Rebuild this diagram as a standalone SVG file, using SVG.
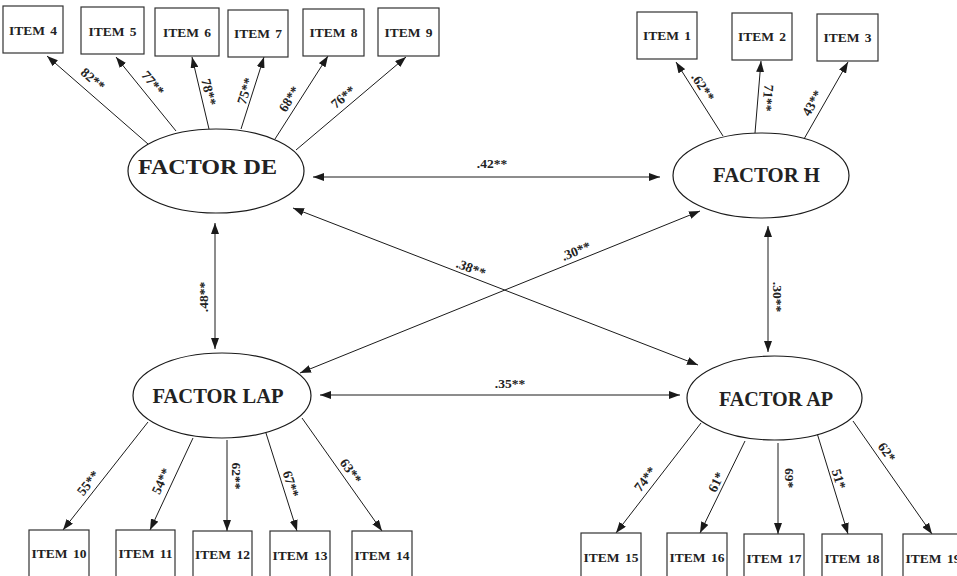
<svg xmlns="http://www.w3.org/2000/svg" width="957" height="576" viewBox="0 0 957 576">
<defs>
<marker id="ah" viewBox="0 0 11 8" refX="11" refY="4" markerWidth="11" markerHeight="8" markerUnits="userSpaceOnUse" orient="auto-start-reverse">
<path d="M0,0 L11,4 L0,8 z" fill="#1a1a1a"/>
</marker>
<style>
.box{fill:#fff;stroke:#333;stroke-width:1.2}
.ell{fill:#fff;stroke:#1a1a1a;stroke-width:1.2}
.it{font-family:"Liberation Serif",serif;font-weight:bold;font-size:13.5px;fill:#222;text-anchor:middle;word-spacing:2px}
.fl{font-family:"Liberation Serif",serif;font-weight:bold;font-size:22px;fill:#222;text-anchor:middle}
.lb{font-family:"Liberation Serif",serif;font-weight:bold;font-size:13.5px;fill:#222;text-anchor:middle}
.ln{stroke:#1a1a1a;stroke-width:1;fill:none;marker-end:url(#ah)}
.dl{stroke:#1a1a1a;stroke-width:1;fill:none;marker-end:url(#ah);marker-start:url(#ah)}
</style>
</defs>
<rect width="957" height="576" fill="#fff"/>

<g id="connectors">
<line class="ln" x1="148" y1="144" x2="47" y2="56"/>
<line class="ln" x1="176" y1="131" x2="116" y2="57"/>
<line class="ln" x1="209" y1="129" x2="192" y2="57"/>
<line class="ln" x1="241" y1="129" x2="264" y2="57"/>
<line class="ln" x1="275" y1="139" x2="328" y2="56"/>
<line class="ln" x1="296" y1="150" x2="406" y2="57"/>
<line class="ln" x1="723" y1="136" x2="676" y2="62"/>
<line class="ln" x1="755" y1="133" x2="761" y2="61"/>
<line class="ln" x1="804" y1="139" x2="848" y2="62"/>
<line class="dl" x1="313" y1="177" x2="660" y2="177"/>
<line class="dl" x1="215" y1="223" x2="215" y2="349"/>
<line class="dl" x1="768" y1="226" x2="768" y2="352"/>
<line class="dl" x1="293" y1="208" x2="698" y2="365"/>
<line class="dl" x1="300" y1="373" x2="700" y2="211"/>
<line class="dl" x1="320" y1="395" x2="680" y2="395"/>
<line class="ln" x1="148" y1="422" x2="63" y2="530"/>
<line class="ln" x1="193" y1="438" x2="150" y2="530"/>
<line class="ln" x1="227" y1="440" x2="227" y2="531"/>
<line class="ln" x1="265" y1="430" x2="297" y2="531"/>
<line class="ln" x1="302" y1="418" x2="382" y2="531"/>
<line class="ln" x1="701" y1="423" x2="616" y2="533"/>
<line class="ln" x1="745" y1="441" x2="700" y2="533"/>
<line class="ln" x1="778" y1="443" x2="778" y2="534"/>
<line class="ln" x1="817" y1="433" x2="848" y2="534"/>
<line class="ln" x1="853" y1="421" x2="932" y2="534"/>
<g id="connector-labels">
<text class="lb" transform="translate(93,79) rotate(40.7)" dy="0.35em">82**</text>
<text class="lb" transform="translate(153,83) rotate(50.6)" dy="0.35em">77**</text>
<text class="lb" transform="translate(209,92) rotate(76.7)" dy="0.35em">78**</text>
<text class="lb" transform="translate(245,91) rotate(-72.3)" dy="0.35em">75**</text>
<text class="lb" transform="translate(289,99) rotate(-57.4)" dy="0.35em">68**</text>
<text class="lb" transform="translate(343,97) rotate(-39.9)" dy="0.35em">76**</text>
<text class="lb" transform="translate(703,87) rotate(56.9)" dy="0.35em">.62**</text>
<text class="lb" transform="translate(768,98) rotate(94.8)" dy="0.35em">71**</text>
<text class="lb" transform="translate(812,103) rotate(-59.9)" dy="0.35em">43**</text>
<text class="lb" x="492" y="168">.42**</text>
<text class="lb" transform="translate(203,297) rotate(-90)" dy="0.35em">.48**</text>
<text class="lb" transform="translate(778,297) rotate(90)" dy="0.35em">.30**</text>
<text class="lb" transform="translate(471,268) rotate(21.2)" dy="0.35em">.38**</text>
<text class="lb" transform="translate(576,251) rotate(-22)" dy="0.35em">.30**</text>
<text class="lb" x="510" y="388">.35**</text>
<text class="lb" transform="translate(88,483) rotate(-51.8)" dy="0.35em">55**</text>
<text class="lb" transform="translate(161,481) rotate(-65)" dy="0.35em">54**</text>
<text class="lb" transform="translate(237,476) rotate(90)" dy="0.35em">62**</text>
<text class="lb" transform="translate(291,484) rotate(72.4)" dy="0.35em">67**</text>
<text class="lb" transform="translate(351,471) rotate(54.7)" dy="0.35em">63**</text>
<text class="lb" transform="translate(645,479) rotate(-52.6)" dy="0.35em">74**</text>
<text class="lb" transform="translate(716,482) rotate(-63.9)" dy="0.35em">61*</text>
<text class="lb" transform="translate(790,478) rotate(90)" dy="0.35em">69*</text>
<text class="lb" transform="translate(839,479) rotate(72.9)" dy="0.35em">51*</text>
<text class="lb" transform="translate(887,452) rotate(55)" dy="0.35em">62*</text>
</g>
</g>

<g id="factor-de"><ellipse class="ell" cx="216" cy="171" rx="88" ry="42"/><text class="fl" x="207.5" y="174" textLength="139" lengthAdjust="spacingAndGlyphs">FACTOR DE</text></g>
<g id="factor-h"><ellipse class="ell" cx="761" cy="175.5" rx="88" ry="42.5"/><text class="fl" x="766.5" y="182" textLength="107" lengthAdjust="spacingAndGlyphs">FACTOR H</text></g>
<g id="factor-lap"><ellipse class="ell" cx="222" cy="395.5" rx="89" ry="42.5"/><text class="fl" x="218" y="403" textLength="131" lengthAdjust="spacingAndGlyphs">FACTOR LAP</text></g>
<g id="factor-ap"><ellipse class="ell" cx="774.5" cy="398" rx="87.5" ry="42"/><text class="fl" x="776" y="406" textLength="114" lengthAdjust="spacingAndGlyphs">FACTOR AP</text></g>

<g id="item4"><rect class="box" x="3" y="6" width="60" height="47"/><text class="it" x="33" y="35">ITEM 4</text></g>
<g id="item5"><rect class="box" x="81" y="7" width="63" height="47"/><text class="it" x="112.5" y="36">ITEM 5</text></g>
<g id="item6"><rect class="box" x="155" y="8" width="64" height="48"/><text class="it" x="187" y="37">ITEM 6</text></g>
<g id="item7"><rect class="box" x="228" y="10" width="60" height="47"/><text class="it" x="258" y="38">ITEM 7</text></g>
<g id="item8"><rect class="box" x="303" y="9" width="61" height="47"/><text class="it" x="333.5" y="37">ITEM 8</text></g>
<g id="item9"><rect class="box" x="378" y="8" width="61" height="48"/><text class="it" x="408.5" y="37">ITEM 9</text></g>
<g id="item1"><rect class="box" x="637" y="12" width="60" height="47"/><text class="it" x="667" y="40">ITEM 1</text></g>
<g id="item2"><rect class="box" x="732" y="13" width="60" height="47"/><text class="it" x="762" y="41">ITEM 2</text></g>
<g id="item3"><rect class="box" x="817" y="14" width="61" height="47"/><text class="it" x="847.5" y="42">ITEM 3</text></g>
<g id="item10"><rect class="box" x="29" y="530" width="60" height="60"/><text class="it" x="59" y="558">ITEM 10</text></g>
<g id="item11"><rect class="box" x="116" y="530" width="59" height="60"/><text class="it" x="145.5" y="558">ITEM 11</text></g>
<g id="item12"><rect class="box" x="193" y="531" width="59" height="60"/><text class="it" x="222.5" y="559">ITEM 12</text></g>
<g id="item13"><rect class="box" x="270" y="531" width="60" height="60"/><text class="it" x="300" y="560">ITEM 13</text></g>
<g id="item14"><rect class="box" x="352" y="531" width="60" height="60"/><text class="it" x="382" y="560">ITEM 14</text></g>
<g id="item15"><rect class="box" x="581" y="533" width="60" height="60"/><text class="it" x="611" y="562">ITEM 15</text></g>
<g id="item16"><rect class="box" x="667" y="533" width="60" height="60"/><text class="it" x="697" y="562">ITEM 16</text></g>
<g id="item17"><rect class="box" x="744" y="534" width="60" height="60"/><text class="it" x="774" y="563">ITEM 17</text></g>
<g id="item18"><rect class="box" x="822" y="534" width="60" height="60"/><text class="it" x="852" y="563">ITEM 18</text></g>
<g id="item19"><rect class="box" x="903" y="534" width="60" height="60"/><text class="it" x="933" y="563">ITEM 19</text></g>
</svg>
